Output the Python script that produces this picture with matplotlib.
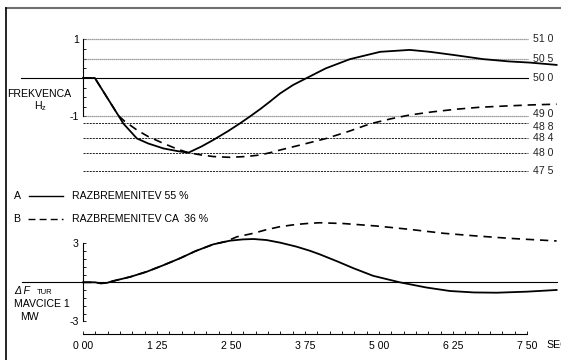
import matplotlib
matplotlib.use("Agg")
import matplotlib.pyplot as plt
from matplotlib.lines import Line2D
import numpy as np

plt.rcParams['font.family'] = ['Liberation Sans', 'DejaVu Sans']

# upper panel: frequency deviation (drawing units, 0 = 50.0 Hz)
t_fa = [0.0, 0.2, 0.6, 0.68, 0.91, 1.1, 1.36, 1.6, 1.78, 2.0, 2.2, 2.45, 2.65, 2.82,
        3.0, 3.16, 3.33, 3.55, 3.78, 4.1, 4.51, 5.02, 5.52, 5.86, 6.3, 6.76, 7.2, 7.55, 8.0]
f_a = [0.0, 0.0, -0.98, -1.18, -1.57, -1.70, -1.83, -1.90, -1.94, -1.78, -1.61, -1.38, -1.18, -1.0,
       -0.80, -0.61, -0.40, -0.18, 0.0, 0.25, 0.49, 0.68, 0.73, 0.68, 0.59, 0.49, 0.43, 0.40, 0.34]
t_fb = [0.0, 0.2, 0.6, 0.7, 0.91, 1.1, 1.36, 1.6, 1.78, 2.0, 2.2, 2.48, 2.75, 2.99, 3.16, 3.33,
        3.7, 4.11, 4.5, 4.85, 5.2, 5.52, 5.9, 6.31, 6.7, 7.1, 7.55, 8.0]
f_b = [0.0, 0.0, -0.98, -1.12, -1.35, -1.52, -1.70, -1.85, -1.94, -2.0, -2.04, -2.06, -2.04, -2.0,
       -1.94, -1.87, -1.73, -1.57, -1.38, -1.19, -1.06, -0.96, -0.88, -0.81, -0.76, -0.73, -0.70, -0.68]

# lower panel: turbine power change (MW)
t_pa = [0.0, 0.2, 0.3, 0.4, 0.51, 0.8, 1.08, 1.35, 1.64, 1.9, 2.2, 2.48, 2.7, 2.88, 3.1, 3.33,
        3.6, 3.83, 4.0, 4.3, 4.57, 4.9, 5.35, 5.8, 6.2, 6.6, 6.99, 7.5, 8.0]
p_a = [0.0, 0.0, -0.08, -0.05, 0.1, 0.42, 0.82, 1.3, 1.85, 2.4, 2.92, 3.2, 3.3, 3.33, 3.25, 3.05,
       2.75, 2.43, 2.15, 1.6, 1.08, 0.5, 0.0, -0.4, -0.67, -0.78, -0.80, -0.72, -0.59]
t_pb = [0.0, 0.2, 0.3, 0.4, 0.51, 0.8, 1.08, 1.35, 1.64, 1.9, 2.2, 2.42, 2.6, 2.88, 3.1, 3.33,
        3.6, 3.83, 4.0, 4.4, 4.96, 5.5, 6.09, 6.6, 7.21, 7.6, 8.0]
p_b = [0.0, 0.0, -0.08, -0.05, 0.1, 0.42, 0.82, 1.3, 1.85, 2.4, 2.92, 3.15, 3.5, 3.77, 4.05, 4.28,
       4.45, 4.54, 4.58, 4.52, 4.33, 4.08, 3.77, 3.58, 3.38, 3.28, 3.18]

ref_levels = [1.0, 0.49, 0.0, -1.0, -1.17, -1.56, -1.95, -2.42]
ref_labels = ["51 0", "50 5", "50 0", "49 0", "48 8", "48 4", "48 0", "47 5"]

x_ticks = [0.0, 1.25, 2.5, 3.75, 5.0, 6.25, 7.5]
x_labels = ["0 00", "1 25", "2 50", "3 75", "5 00", "6 25", "7 50"]

W, H = 561, 360
fig = plt.figure(figsize=(W / 100, H / 100), dpi=100)

x0_px, px_per_s = 83, 59.2
xlim = (-x0_px / px_per_s, (W - x0_px) / px_per_s)
fs = 7.6

def fy(py):
    return 1 - py / H

# upper axes
ax1 = fig.add_axes([0, 0, 1, 1])
ax1.patch.set_visible(False)
ax1.set_xlim(xlim)
u = 38.5
ax1.set_ylim(-(H - 78) / u, 78 / u)
for s in ["top", "right", "bottom"]:
    ax1.spines[s].set_visible(False)
ax1.spines["left"].set_position(("data", 0))
ax1.spines["left"].set_bounds(-1, 1)
ax1.spines["left"].set_linewidth(0.8)
ax1.set_xticks([])
ax1.set_yticks([-1, 1])
ax1.set_yticklabels(["-1", "1"])
ax1.set_yticks(np.arange(-1, 1.01, 0.25), minor=True)
ax1.tick_params(axis="y", which="both", direction="in", length=2.5, width=0.6,
                labelsize=fs, pad=3)

for lvl, lab in zip(ref_levels, ref_labels):
    if lvl == 0:
        ax1.plot([-1.05, 7.52], [lvl, lvl], color="black", lw=0.8)
    elif lvl >= -1:
        ax1.plot([0, 7.52], [lvl, lvl], color="#808080", lw=0.9, linestyle=(0, (1, 0.6)))
    else:
        ax1.plot([0, 7.52], [lvl, lvl], color="black", lw=0.6, linestyle=(0, (2.5, 1.2)))
    # the two close labels are pushed apart a little, as in the original
    dy = {"49 0": 1.5, "48 8": -2.5}.get(lab, 0)
    ax1.annotate(lab, (7.6, lvl), xytext=(0, dy), textcoords="offset points",
                 fontsize=fs, ha="left", va="center", color="#222222")

ax1.plot(t_fa, f_a, color="black", lw=1.3)
ax1.plot(t_fb, f_b, color="black", lw=1.2, linestyle=(0, (5, 3.5)))

# lower axes
ax2 = fig.add_axes([0, 0, 1, 1])
ax2.patch.set_visible(False)
ax2.set_xlim(xlim)
v = 13.0
ax2.set_ylim(-(H - 282.3) / v, 282.3 / v)
for s in ["top", "right"]:
    ax2.spines[s].set_visible(False)
ax2.spines["left"].set_position(("data", 0))
ax2.spines["left"].set_bounds(-3, 3)
ax2.spines["left"].set_linewidth(0.8)
ax2.spines["bottom"].set_position(("data", -(334 - 282.3) / v))
ax2.spines["bottom"].set_bounds(0, 7.5)
ax2.spines["bottom"].set_linewidth(0.8)
ax2.set_yticks([-3, 3])
ax2.set_yticklabels(["-3", "3"])
ax2.set_yticks(np.arange(-3, 3.01, 0.6), minor=True)
ax2.tick_params(axis="y", which="both", direction="in", length=2.5, width=0.6,
                labelsize=fs, pad=3)
ax2.set_xticks(x_ticks)
ax2.set_xticklabels(x_labels)
ax2.set_xticks(np.arange(0, 7.51, 1.25 / 6), minor=True)
ax2.tick_params(axis="x", which="both", direction="in", length=2.5, width=0.6,
                labelsize=fs, pad=5)
ax2.text(7.83, -(345 - 282.3) / v, "SEC", fontsize=fs, ha="left", va="center")

ax2.plot([-1.03, 8.0], [0, 0], color="black", lw=0.8)
ax2.plot(t_pa, p_a, color="black", lw=1.3)
ax2.plot(t_pb, p_b, color="black", lw=1.2, linestyle=(0, (5, 3.5)))

# left labels
fig.text(7 / W, fy(94), "FREKVENCA", fontsize=fs, ha="left", va="center")
fig.text(40 / W, fy(106), r"H$_\mathregular{z}$", fontsize=fs, ha="center", va="center")
fig.text(14 / W, fy(291), "\u0394 F", fontsize=fs, style="italic", ha="left", va="center")
fig.text(37 / W, fy(293), "TUR", fontsize=5.5, ha="left", va="center")
fig.text(14 / W, fy(304), "MAVCICE 1", fontsize=fs, ha="left", va="center")
fig.text(20 / W, fy(317), "MW", fontsize=fs, ha="left", va="center")

# legend
fig.text(14 / W, fy(196), "A", fontsize=fs, ha="left", va="center")
fig.add_artist(Line2D([29 / W, 63 / W], [fy(196), fy(196)], color="black", lw=1.0))
fig.text(72 / W, fy(196), "RAZBREMENITEV 55 %", fontsize=fs, ha="left", va="center")
fig.text(13 / W, fy(219), "B", fontsize=fs, ha="left", va="center")
fig.add_artist(Line2D([28 / W, 63 / W], [fy(219), fy(219)], color="black", lw=1.0,
                      linestyle=(0, (5, 3))))
fig.text(72 / W, fy(219), "RAZBREMENITEV CA  36 %", fontsize=fs, ha="left", va="center")

# frame
fig.add_artist(Line2D([6 / W, 1], [fy(8), fy(8)], color="#707070", lw=1.5))
fig.add_artist(Line2D([6 / W, 6 / W], [fy(8), 0], color="black", lw=1.2))

fig.savefig("out.png", dpi=100)
